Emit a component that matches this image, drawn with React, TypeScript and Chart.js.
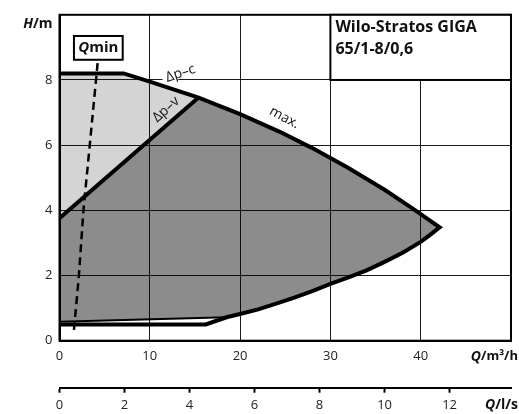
import { useEffect, useRef } from "react";
import { Chart, registerables } from "chart.js";

Chart.register(...registerables);

const FONT = "'Open Sans', 'Noto Sans', sans-serif";

// Flow Q in m³/h, head H in m
const upperQ = [0, 7.1, 10, 15.4, 20, 24.4, 28, 32, 36, 39.25, 42.1];
const upperH = [8.2, 8.2, 7.95, 7.46, 6.95, 6.41, 5.91, 5.3, 4.63, 4.03, 3.48];
const lowerQ = [42.1, 41, 40, 38, 36, 34, 32, 30, 28, 26, 24, 22, 20, 18.5];
const lowerH = [3.48, 3.24, 3.03, 2.7, 2.42, 2.16, 1.94, 1.74, 1.52, 1.32, 1.14, 0.96, 0.82, 0.72];
const minQ = [18.5, 16.2, 0];
const minH = [0.72, 0.5, 0.5];
const minUpperQ = [18.5, 0];
const minUpperH = [0.72, 0.58];
const dpvQ = [0, 15.4];
const dpvH = [3.76, 7.46];
const qminQ = [1.6, 2.15, 2.65, 3.35, 4.25];
const qminH = [0.33, 2, 4, 6, 8.6];

const X_MAX = 50;
const Y_MAX = 10;
const M3H_PER_LS = 3.6;

const pts = (q: number[], h: number[]) => q.map((v, i) => ({ x: v, y: h[i] }));

const upperPts = pts(upperQ, upperH);
const lowerPts = pts(lowerQ, lowerH);
const minPts = pts(minQ, minH);
const minUpperPts = pts(minUpperQ, minUpperH);
const dpvPts = pts(dpvQ, dpvH);
const qminPts = pts(qminQ, qminH);

const outlinePts = [...upperPts, ...lowerPts.slice(1), ...minPts.slice(1)];
const lightPoly = [...upperPts.slice(0, 4), dpvPts[0]];
const darkPoly = [...upperPts.slice(3), ...lowerPts.slice(1), ...minUpperPts.slice(1), dpvPts[0]];

type Part = [string, string];

function rich(ctx: CanvasRenderingContext2D, parts: Part[], x: number, y: number, align: "left" | "right" | "center") {
  let total = 0;
  const widths = parts.map(([t, f]) => {
    ctx.font = f;
    const w = ctx.measureText(t).width;
    total += w;
    return w;
  });
  let sx = align === "right" ? x - total : align === "center" ? x - total / 2 : x;
  ctx.textAlign = "left";
  ctx.textBaseline = "middle";
  parts.forEach(([t, f], i) => {
    ctx.font = f;
    ctx.fillText(t, sx, y);
    sx += widths[i];
  });
}

const annot = {
  id: "annot",
  beforeDatasetsDraw(chart: any) {
    chart.ctx.save();
    chart.ctx.globalCompositeOperation = "multiply";
  },
  afterDatasetsDraw(chart: any) {
    const ctx: CanvasRenderingContext2D = chart.ctx;
    ctx.restore();
    const xs = chart.scales.x;
    const ys = chart.scales.y;
    const { left, right, top, bottom } = chart.chartArea;
    const px = (v: number) => xs.getPixelForValue(v);
    const py = (v: number) => ys.getPixelForValue(v);

    ctx.save();
    ctx.fillStyle = "#111";
    ctx.strokeStyle = "#000";

    // frame
    ctx.lineWidth = 2;
    ctx.strokeRect(left, top, right - left, bottom - top);

    // title box
    const tx = px(30);
    const tb = py(8);
    ctx.fillStyle = "#fff";
    ctx.fillRect(tx, top, right - tx, tb - top);
    ctx.strokeRect(tx, top, right - tx, tb - top);
    ctx.fillStyle = "#111";
    rich(ctx, [["Wilo-Stratos GIGA", `bold 16px ${FONT}`]], tx + 5, top + 13, "left");
    rich(ctx, [["65/1-8/0,6", `bold 16px ${FONT}`]], tx + 5, top + 35, "left");

    // Qmin box
    const qx1 = px(1.6), qx2 = px(7.0), qy1 = py(9.35), qy2 = py(8.62);
    ctx.fillStyle = "#fff";
    ctx.fillRect(qx1, qy1, qx2 - qx1, qy2 - qy1);
    ctx.strokeRect(qx1, qy1, qx2 - qx1, qy2 - qy1);
    ctx.fillStyle = "#111";
    rich(ctx, [["Q", `italic bold 15px ${FONT}`], ["min", `bold 15px ${FONT}`]], (qx1 + qx2) / 2, (qy1 + qy2) / 2, "center");

    // Δp-c label
    ctx.save();
    ctx.translate(px(13.4), py(8.11) - 3);
    ctx.rotate((-18 * Math.PI) / 180);
    ctx.fillStyle = "#fff";
    ctx.fillRect(-19, -7, 38, 12);
    ctx.fillStyle = "#111";
    rich(ctx, [["Δp–c", `14px ${FONT}`]], 0, 0, "center");
    ctx.restore();

    // Δp-v label
    ctx.save();
    ctx.translate(px(11.8), py(7.09));
    ctx.rotate((-42 * Math.PI) / 180);
    rich(ctx, [["Δp–v", `14px ${FONT}`]], 0, 0, "center");
    ctx.restore();

    // max. label
    ctx.save();
    ctx.translate(px(24.9), py(6.84));
    ctx.rotate((28 * Math.PI) / 180);
    rich(ctx, [["max.", `14px ${FONT}`]], 0, 0, "center");
    ctx.restore();

    // axis titles
    rich(ctx, [["H", `italic bold 14px ${FONT}`], ["/m", `bold 14px ${FONT}`]], left - 7, top + 9, "right");
    rich(ctx, [["Q", `italic bold 14px ${FONT}`], ["/m³/h", `bold 13px ${FONT}`]], 518, bottom + 16, "right");
    const x2 = chart.scales.x2;
    rich(ctx, [["Q", `italic bold 14px ${FONT}`], ["/l/s", `bold 14px ${FONT}`]], 518, x2.top + 17.5, "right");
    ctx.restore();
  },
};

export default function App() {
  const ref = useRef<HTMLCanvasElement>(null);
  useEffect(() => {
    document.body.style.margin = "0";
    const canvas = ref.current!;
    const tickFont = { size: 13, family: FONT };
    const chart = new Chart(canvas, {
      type: "line",
      data: {
        datasets: [
          { data: outlinePts, borderColor: "#000", borderWidth: 4, borderJoinStyle: "miter", fill: false, pointRadius: 0 },
          { data: dpvPts, borderColor: "#000", borderWidth: 4, fill: false, pointRadius: 0 },
          { data: minUpperPts, borderColor: "#000", borderWidth: 2, fill: false, pointRadius: 0 },
          { data: qminPts, borderColor: "#000", borderWidth: 2.5, borderDash: [8, 5], fill: false, pointRadius: 0 },
          { data: darkPoly, borderWidth: 0, borderColor: "rgba(0,0,0,0)", backgroundColor: "#8c8c8c", fill: "shape", pointRadius: 0 },
          { data: lightPoly, borderWidth: 0, borderColor: "rgba(0,0,0,0)", backgroundColor: "#d4d4d4", fill: "shape", pointRadius: 0 },
        ],
      },
      options: {
        responsive: false,
        animation: false,
        devicePixelRatio: 1,
        events: [],
        layout: { padding: { top: 13, right: 3, left: 0, bottom: 0 } },
        plugins: { legend: { display: false }, tooltip: { enabled: false } },
        elements: { point: { radius: 0 }, line: { tension: 0 } },
        scales: {
          x: {
            type: "linear",
            position: "bottom",
            min: 0,
            max: X_MAX,
            weight: 0,
            afterFit: (s: any) => {
              s.height = 47;
            },
            grid: { color: "#1a1a1a", lineWidth: 1, drawTicks: false },
            border: { display: true, color: "#000", width: 2 },
            ticks: {
              stepSize: 10,
              padding: 8,
              color: "#222",
              font: tickFont,
              maxRotation: 0,
              autoSkip: false,
              callback: (v: any) => (v === X_MAX ? "" : String(v)),
            },
          },
          x2: {
            type: "linear",
            axis: "x",
            position: "bottom",
            min: 0,
            max: X_MAX / M3H_PER_LS,
            weight: 1,
            afterFit: (s: any) => {
              s.height = 26.3;
            },
            grid: { display: true, drawOnChartArea: false, drawTicks: true, tickLength: 5, tickWidth: 2, tickColor: "#000" },
            border: { display: true, color: "#000", width: 2 },
            ticks: {
              stepSize: 2,
              includeBounds: false,
              padding: 4.5,
              color: "#222",
              font: tickFont,
              maxRotation: 0,
              autoSkip: false,
            },
          },
          y: {
            type: "linear",
            position: "left",
            min: 0,
            max: Y_MAX,
            afterFit: (s: any) => {
              s.width = 59.5;
            },
            grid: { color: "#1a1a1a", lineWidth: 1, drawTicks: false },
            border: { display: true, color: "#000", width: 2 },
            ticks: {
              stepSize: 2,
              padding: 7,
              color: "#222",
              font: tickFont,
              callback: (v: any) => (v === Y_MAX ? "" : String(v)),
            },
          },
        },
      },
      plugins: [annot],
    } as any);
    return () => chart.destroy();
  }, []);
  return <canvas ref={ref} width={519} height={414} style={{ display: "block" }} />;
}
